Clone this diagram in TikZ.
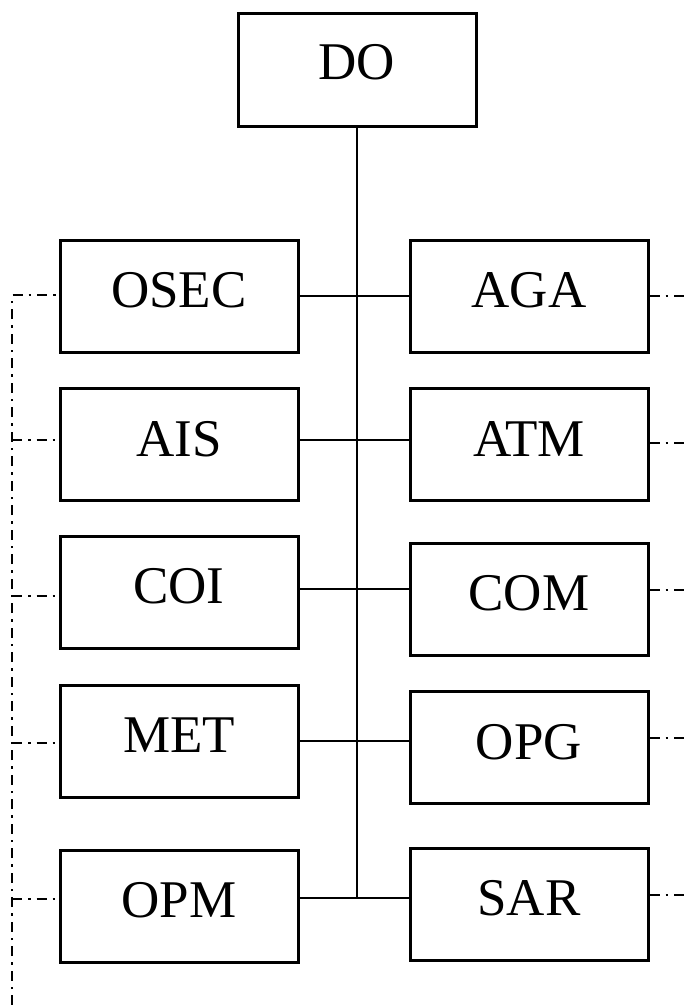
\documentclass[tikz,border=0pt]{standalone}
\usepackage{fontspec}
\setmainfont{Liberation Serif}
\begin{document}
\begin{tikzpicture}[x=1pt,y=-1pt,
  box/.style={draw,line width=3pt,minimum width=238pt,minimum height=112pt,inner sep=0pt,
    font=\fontsize{53}{60}\selectfont,text depth=12pt},
  link/.style={line width=2.8pt},
  dd/.style={line width=2.2pt,dash pattern=on 10pt off 6pt on 2.5pt off 6pt}]
\useasboundingbox (0,0) rectangle (685,1005);
\node[box,minimum height=113pt,text depth=16pt] (do) at (357,69.5) {DO};
\node[box] (osec) at (179,296) {OSEC};
\node[box] (ais) at (179,444.5) {AIS};
\node[box] (coi) at (179,592) {COI};
\node[box] (met) at (179,741.5) {MET};
\node[box] (opm) at (179,906) {OPM};
\node[box] (aga) at (529,296) {AGA};
\node[box] (atm) at (529,444.5) {ATM};
\node[box] (com) at (529,599) {COM};
\node[box] (opg) at (529,747.5) {OPG};
\node[box] (sar) at (529,904) {SAR};
\coordinate (c1) at (357,296);
\coordinate (c2) at (357,440);
\coordinate (c3) at (357,589);
\coordinate (c4) at (357,741);
\coordinate (c5) at (357,898);
\draw[link] (do.south) -- (c5);
\draw[link] (osec.east |- c1) -- (aga.west |- c1);
\draw[link] (ais.east |- c2) -- (atm.west |- c2);
\draw[link] (coi.east |- c3) -- (com.west |- c3);
\draw[link] (met.east |- c4) -- (opg.west |- c4);
\draw[link] (opm.east |- c5) -- (sar.west |- c5);
% left dash-dot bus
\coordinate (lt) at (12,295);
\coordinate (lb) at (12,1005);
\coordinate (l2) at (12,440);
\coordinate (l3) at (12,596);
\coordinate (l4) at (12,743);
\coordinate (l5) at (12,899);
\draw[dd] (lb) -- (lt) -- (osec.west |- lt);
\draw[dd] (l2) -- (ais.west |- l2);
\draw[dd] (l3) -- (coi.west |- l3);
\draw[dd] (l4) -- (met.west |- l4);
\draw[dd] (l5) -- (opm.west |- l5);
% right dash-dot stubs
\coordinate (r1) at (685,296);
\coordinate (r2) at (685,443);
\coordinate (r3) at (685,590);
\coordinate (r4) at (685,738);
\coordinate (r5) at (685,895);
\draw[dd] (aga.east |- r1) -- (r1);
\draw[dd] (atm.east |- r2) -- (r2);
\draw[dd] (com.east |- r3) -- (r3);
\draw[dd] (opg.east |- r4) -- (r4);
\draw[dd] (sar.east |- r5) -- (r5);
\end{tikzpicture}
\end{document}
